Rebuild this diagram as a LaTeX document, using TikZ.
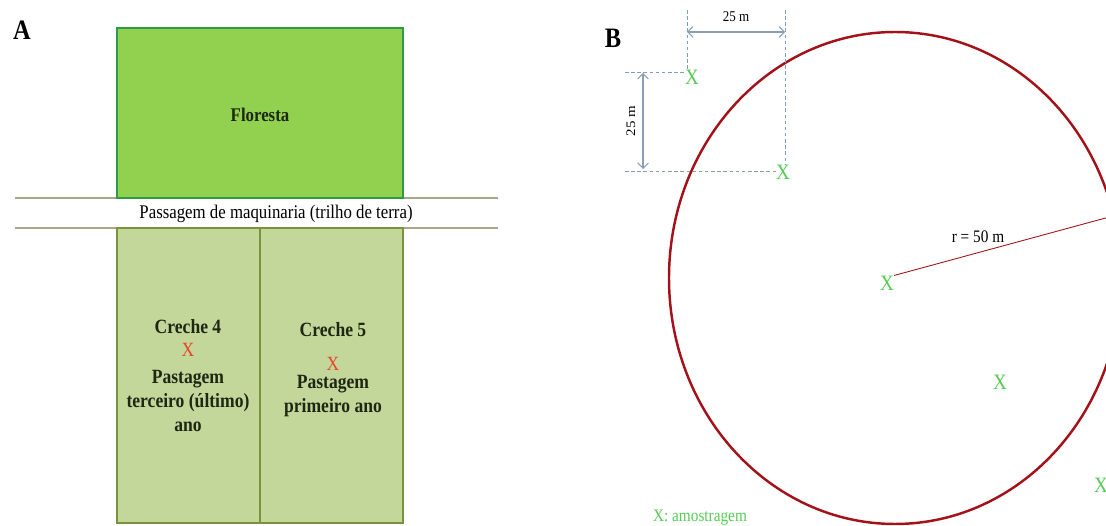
\documentclass[tikz,border=0pt]{standalone}
\usepackage{fontspec}
\usetikzlibrary{arrows.meta}
\setmainfont{Liberation Serif}
\definecolor{floresta}{HTML}{92D050}
\definecolor{bordaF}{HTML}{2E9B48}
\definecolor{pasto}{HTML}{C4D79B}
\definecolor{bordaP}{HTML}{77933C}
\definecolor{estrada}{HTML}{A6A68C}
\definecolor{vermelho}{HTML}{A31219}
\definecolor{cotacor}{HTML}{7F9FBF}
\definecolor{setacor}{HTML}{8CA0B4}
\definecolor{verdeX}{HTML}{55CC55}
\definecolor{xvermelho}{HTML}{E8442C}
\definecolor{escuro}{HTML}{1C2812}
\begin{document}
\begin{tikzpicture}[x=0.02cm,y=-0.02cm,
    texto/.style={inner sep=0pt,xscale=0.87},
    letra/.style={texto,font=\bfseries\fontsize{16}{16}\selectfont},
    rotulo/.style={texto,align=center,text=escuro,font=\bfseries\fontsize{11.5}{13.8}\selectfont},
    amostra/.style={texto,text=verdeX,font=\fontsize{12.5}{12.5}\selectfont},
    cota/.style={draw=cotacor,line width=0.5pt,dash pattern=on 2pt off 1.5pt},
    seta/.style={draw=setacor,line width=0.6pt,{Straight Barb[length=3pt,width=6pt]}-{Straight Barb[length=3pt,width=6pt]}}]
\clip (0,0) rectangle (1106,526);
\node[letra] (A) at (22,30) {A};
\draw[estrada,line width=0.6pt] (15,198) -- (498,198);
\draw[estrada,line width=0.6pt] (15,228) -- (498,228);
\draw[draw=bordaF,fill=floresta,line width=1.3pt] (117,28) rectangle (403,198);
\node[rotulo,font=\bfseries\fontsize{11}{12}\selectfont] (flor) at (260,115) {Floresta};
\node[texto,font=\fontsize{11}{11}\selectfont] (passagem) at (276,214) {Passagem de maquinaria (trilho de terra)};
\draw[draw=bordaP,fill=pasto,line width=1.3pt] (117,228) rectangle (403,523);
\draw[draw=bordaP,line width=1.3pt] (260,228) -- (260,523);
\node[rotulo] (c4) at (188,327) {Creche 4};
\node[texto,text=xvermelho,font=\fontsize{11.5}{11.5}\selectfont] (c4x) at (188,350) {X};
\node[rotulo] (c4txt) at (188,401) {Pastagem\\terceiro (último)\\ano};
\node[rotulo] (c5) at (333,330) {Creche 5};
\node[texto,text=xvermelho,font=\fontsize{11.5}{11.5}\selectfont] (c5x) at (333,364) {X};
\node[rotulo] (c5txt) at (333,396) {Pastagem\\primeiro ano};
\node[letra] (B) at (613,38) {B};
\draw[vermelho,line width=1.4pt] (895,278) ellipse [x radius=226,y radius=246];
\node[amostra] (x1) at (692,77) {X};
\node[amostra] (x2) at (783,172) {X};
\node[amostra] (xc) at (887,283) {X};
\node[amostra] (x3) at (1000,382) {X};
\node[amostra] (x4) at (1101,485) {X};
\coordinate (t1) at (687,10);
\coordinate (t2) at (785,10);
\coordinate (l1) at (625,72);
\coordinate (l2) at (625,171);
\coordinate (raio) at (1113,216);
\draw[cota] (t1) -- (t1 |- x1.north);
\draw[cota] (t2) -- (x2.north -| t2);
\draw[cota] (l1) -- (x1.west |- l1);
\draw[cota] (l2) -- (x2.west |- l2);
\draw[seta] (687,32) -- (785,32);
\draw[seta] (643,73) -- (643,169);
\node[texto,font=\fontsize{8.5}{8.5}\selectfont] (d1) at (736,17) {25 m};
\node[texto,font=\fontsize{8.5}{8.5}\selectfont,rotate=90] (d2) at (631,121) {25 m};
\draw[vermelho,line width=0.5pt] (xc.north east) -- (raio);
\node[texto,font=\fontsize{10}{10}\selectfont] (r) at (978,237) {r = 50 m};
\node[texto,text=verdeX,font=\fontsize{10}{10}\selectfont] (legenda) at (700,518) {X: amostragem};
\end{tikzpicture}
\end{document}
